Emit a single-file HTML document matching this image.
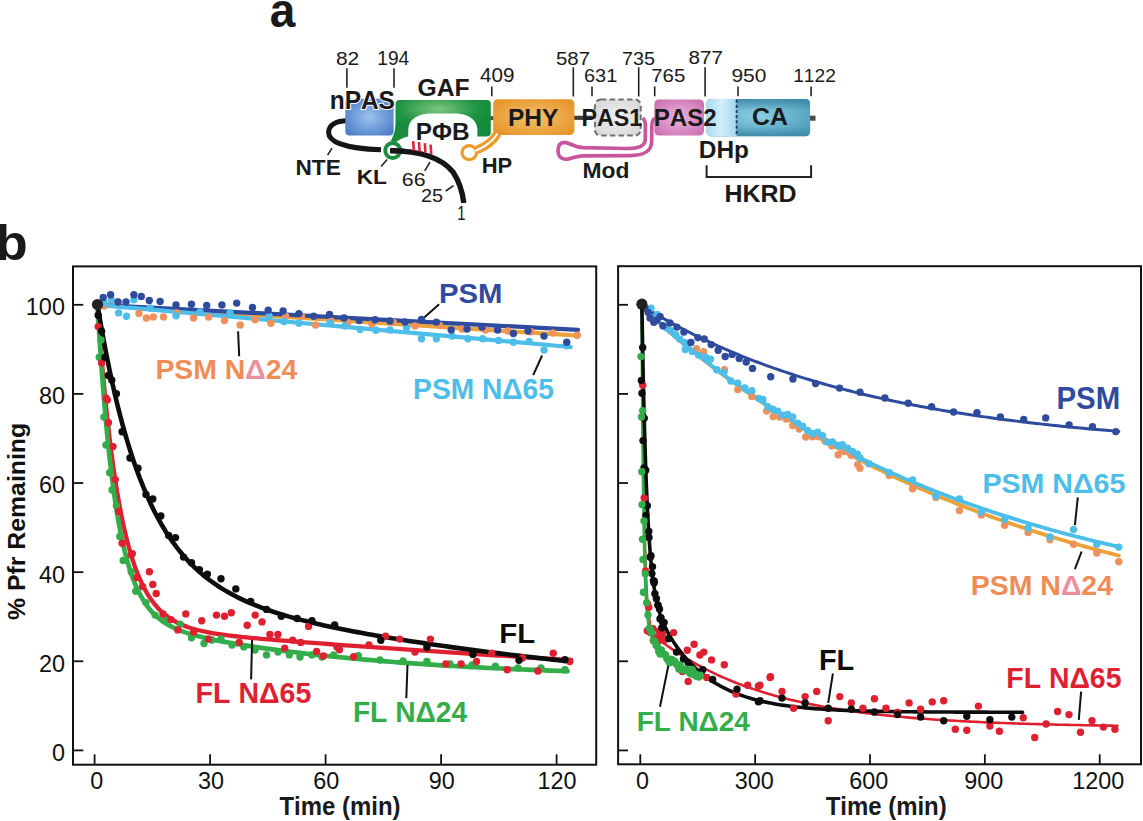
<!DOCTYPE html>
<html><head><meta charset="utf-8"><style>
html,body{margin:0;padding:0;background:#fff;}
svg{display:block;font-family:"Liberation Sans", sans-serif;}
text{font-kerning:none;}
</style></head><body>
<svg width="1143" height="821" viewBox="0 0 1143 821">
<rect width="1143" height="821" fill="#fff"/>
<text transform="translate(269.65,27.00) scale(0.9401,1)" font-size="48.88" font-weight="bold" fill="#1a1a1a" >a</text>
<text transform="translate(-4.48,259.80) scale(1.0684,1)" font-size="49.41" font-weight="bold" fill="#1a1a1a" >b</text>
<defs>
<radialGradient id="gBlue" cx="0.5" cy="0.5" r="0.6"><stop offset="0" stop-color="#9cc3ee"/><stop offset="1" stop-color="#4f7fc8"/></radialGradient>
<radialGradient id="gGreen" cx="0.45" cy="0.25" r="0.6"><stop offset="0" stop-color="#7cc67e"/><stop offset="0.7" stop-color="#1f9443"/><stop offset="1" stop-color="#168a3c"/></radialGradient>
<radialGradient id="gOrange" cx="0.5" cy="0.5" r="0.6"><stop offset="0" stop-color="#f2c070"/><stop offset="1" stop-color="#e8962a"/></radialGradient>
<radialGradient id="gGray" cx="0.5" cy="0.5" r="0.6"><stop offset="0" stop-color="#f2f2f2"/><stop offset="1" stop-color="#d8d8d8"/></radialGradient>
<radialGradient id="gMag" cx="0.5" cy="0.5" r="0.6"><stop offset="0" stop-color="#ecb6de"/><stop offset="1" stop-color="#cc74b2"/></radialGradient>
<linearGradient id="gLB" x1="0" y1="0" x2="1" y2="0"><stop offset="0" stop-color="#a9d9f1"/><stop offset="0.5" stop-color="#d4eefa"/><stop offset="1" stop-color="#a3d5ee"/></linearGradient>
<radialGradient id="gCA" cx="0.5" cy="0.45" r="0.6"><stop offset="0" stop-color="#8ccfe2"/><stop offset="1" stop-color="#4c9dbb"/></radialGradient>
<linearGradient id="gCAv" x1="0" y1="0" x2="0" y2="1"><stop offset="0" stop-color="#2f7896" stop-opacity="0.55"/><stop offset="0.3" stop-color="#2f7896" stop-opacity="0"/><stop offset="0.75" stop-color="#2f7896" stop-opacity="0"/><stop offset="1" stop-color="#2f7896" stop-opacity="0.5"/></linearGradient>
</defs>
<text transform="translate(335.89,65.20) scale(1.0897,1)" font-size="19.19" font-weight="normal" fill="#1a1a1a" >82</text>
<text transform="translate(377.34,65.20) scale(0.9822,1)" font-size="19.48" font-weight="normal" fill="#1a1a1a" >194</text>
<text transform="translate(555.98,64.60) scale(1.0882,1)" font-size="18.75" font-weight="normal" fill="#1a1a1a" >587</text>
<text transform="translate(622.08,64.60) scale(1.0564,1)" font-size="18.75" font-weight="normal" fill="#1a1a1a" >735</text>
<text transform="translate(688.60,64.00) scale(1.1085,1)" font-size="18.62" font-weight="normal" fill="#1a1a1a" >877</text>
<text transform="translate(479.92,82.00) scale(1.0555,1)" font-size="19.62" font-weight="normal" fill="#1a1a1a" >409</text>
<text transform="translate(583.99,82.00) scale(1.0883,1)" font-size="18.33" font-weight="normal" fill="#1a1a1a" >631</text>
<text transform="translate(651.25,82.00) scale(1.0987,1)" font-size="18.60" font-weight="normal" fill="#1a1a1a" >765</text>
<text transform="translate(731.42,82.20) scale(1.1097,1)" font-size="18.90" font-weight="normal" fill="#1a1a1a" >950</text>
<text transform="translate(793.13,82.20)" font-size="19.19" font-weight="normal" fill="#1a1a1a" >1122</text>
<line x1="346.90" y1="68.30" x2="346.90" y2="87.80" stroke="#222" stroke-width="1.60" />
<line x1="394.00" y1="68.30" x2="394.00" y2="87.80" stroke="#222" stroke-width="1.60" />
<line x1="573.30" y1="67.30" x2="573.30" y2="96.50" stroke="#222" stroke-width="1.60" />
<line x1="638.70" y1="67.30" x2="638.70" y2="96.50" stroke="#222" stroke-width="1.60" />
<line x1="705.10" y1="67.30" x2="705.10" y2="96.50" stroke="#222" stroke-width="1.60" />
<line x1="491.80" y1="86.40" x2="491.80" y2="96.30" stroke="#222" stroke-width="1.60" />
<line x1="592.00" y1="86.40" x2="592.00" y2="96.30" stroke="#222" stroke-width="1.60" />
<line x1="654.70" y1="86.40" x2="654.70" y2="96.30" stroke="#222" stroke-width="1.60" />
<line x1="738.00" y1="86.40" x2="738.00" y2="96.30" stroke="#222" stroke-width="1.60" />
<line x1="811.10" y1="86.40" x2="811.10" y2="96.30" stroke="#222" stroke-width="1.60" />
<line x1="574.00" y1="117.80" x2="592.00" y2="117.80" stroke="#404040" stroke-width="4.20" />
<line x1="490.00" y1="118.20" x2="494.00" y2="118.20" stroke="#4a4a4a" stroke-width="4.00" />
<line x1="808.00" y1="118.20" x2="815.50" y2="118.20" stroke="#4a4a4a" stroke-width="5.00" />
<path d="M347,120.8 C336,120.8 328.6,125 328.6,132.4 C328.6,142 345,148.5 381,149.8" fill="none" stroke="#151515" stroke-width="5"/>
<path d="M390.2,150.6 C420,150.8 441,157 453,172 C459,181 462.5,192 463.8,203" fill="none" stroke="#151515" stroke-width="5.4"/>
<rect x="345.3" y="98.7" width="48.3" height="36.8" rx="4" fill="url(#gBlue)"/>
<path d="M399.5,100.1 H486.8 Q490.8,100.1 490.8,104.1 V132.4 Q490.8,136.4 486.8,136.4 H477.4 V130 C477.4,122 471.6,115 457.6,113.6 H428 C414,115 408.2,122 408.2,130 V136.4 H395.5 V104.1 Q395.5,100.1 399.5,100.1 Z" fill="url(#gGreen)"/>
<path d="M395.5,126 L408.2,126 L408,136.3 C403,138 398.5,140.2 396.2,142 L390.6,141 C392.6,137.5 394.8,133 395.5,126 Z" fill="#1b8c3f"/>
<circle cx="392.7" cy="150.5" r="7.45" fill="none" stroke="#1b8c3f" stroke-width="3.9"/>
<path d="M390.2,150.6 C395,150.5 400,150.8 404,151.3" fill="none" stroke="#151515" stroke-width="5.4"/>
<line x1="413.80" y1="150.70" x2="413.20" y2="141.20" stroke="#dc2a3a" stroke-width="2.60" />
<line x1="419.60" y1="151.50" x2="419.00" y2="142.00" stroke="#dc2a3a" stroke-width="2.60" />
<line x1="425.40" y1="152.70" x2="424.80" y2="143.20" stroke="#dc2a3a" stroke-width="2.60" />
<line x1="431.20" y1="154.20" x2="430.60" y2="144.70" stroke="#dc2a3a" stroke-width="2.60" />
<rect x="493.2" y="99.2" width="81.2" height="35.8" rx="4.5" fill="url(#gOrange)"/>
<path d="M497.5,133.5 C494,140 488,145.5 477,150" fill="none" stroke="#ec9a2c" stroke-width="8.6"/>
<path d="M497.5,133.5 C494,140 488,145.5 474,151.5" fill="none" stroke="#fff" stroke-width="1.8"/>
<ellipse cx="469.3" cy="152.6" rx="7.3" ry="7.0" fill="#fff" stroke="#ec9a2c" stroke-width="3.1"/>
<path d="M488,144 C484,147 480,149 475,150.8" fill="none" stroke="#fff" stroke-width="1.8"/>
<rect x="594.9" y="99.4" width="45.8" height="36.2" rx="6" fill="url(#gGray)" stroke="#707070" stroke-width="2" stroke-dasharray="5.5,3.2"/>
<rect x="654.3" y="99.5" width="49.7" height="36" rx="4.5" fill="url(#gMag)"/>
<path d="M642.5,118.3 C644.8,119.5 645.4,122 645.4,126 L645.3,139 C645.1,146 640,148.4 626,148.5 L583,147.6 C574,147.2 569.5,142.6 564.3,142.4 C559.2,142.4 558,147 558,151.1 C558,156 561,159.4 566,159.3 C571,159.2 575.5,155.9 583,155.8 L630,155.6 C645,155.4 651.6,151 651.7,141 L651.8,126 C651.9,121 653,119 655,118.5" fill="none" stroke="#c9559f" stroke-width="3.7"/>
<rect x="706.6" y="99" width="103.5" height="37.3" rx="4.5" fill="url(#gCA)"/>
<rect x="706.6" y="99" width="103.5" height="37.3" rx="4.5" fill="url(#gCAv)"/>
<path d="M711.1,99 H736.6 V136.3 H711.1 Q706.6,136.3 706.6,131.8 V103.5 Q706.6,99 711.1,99 Z" fill="url(#gLB)"/>
<line x1="736.60" y1="99.50" x2="736.60" y2="136.00" stroke="#1c3c60" stroke-width="1.80" stroke-dasharray="3.2,2"/>
<path d="M706.6,165.3 V177 H811.1 V165.3" fill="none" stroke="#222" stroke-width="2"/>
<text transform="translate(329.69,109.00) scale(0.9567,1)" font-size="25.58" font-weight="bold" fill="#1a1a1a" stroke="#fff" stroke-width="2" paint-order="stroke">nPAS</text>
<text transform="translate(417.59,96.00) scale(1.0295,1)" font-size="23.98" font-weight="bold" fill="#1a1a1a" >GAF</text>
<text transform="translate(415.77,139.90) scale(1.0219,1)" font-size="23.84" font-weight="bold" fill="#1a1a1a" >PΦB</text>
<text transform="translate(507.96,125.70) scale(1.0228,1)" font-size="23.98" font-weight="bold" fill="#1a1a1a" >PHY</text>
<text transform="translate(581.55,125.80) scale(0.9630,1)" font-size="24.13" font-weight="bold" fill="#1a1a1a" >PAS1</text>
<text transform="translate(653.68,125.80)" font-size="24.13" font-weight="bold" fill="#1a1a1a" >PAS2</text>
<text transform="translate(752.08,124.90) scale(1.0294,1)" font-size="24.13" font-weight="bold" fill="#1a1a1a" >CA</text>
<text transform="translate(698.76,158.20) scale(1.0070,1)" font-size="24.27" font-weight="bold" fill="#1a1a1a" >DHp</text>
<text transform="translate(724.53,201.50) scale(1.0410,1)" font-size="23.98" font-weight="bold" fill="#1a1a1a" >HKRD</text>
<text transform="translate(582.57,178.40) scale(1.0764,1)" font-size="21.22" font-weight="bold" fill="#1a1a1a" >Mod</text>
<text transform="translate(481.63,173.20) scale(0.9689,1)" font-size="22.67" font-weight="bold" fill="#1a1a1a" >HP</text>
<text transform="translate(295.48,175.20) scale(1.0529,1)" font-size="21.51" font-weight="bold" fill="#1a1a1a" >NTE</text>
<text transform="translate(356.68,184.00) scale(1.1138,1)" font-size="20.35" font-weight="bold" fill="#1a1a1a" >KL</text>
<text transform="translate(401.81,186.00) scale(1.1967,1)" font-size="17.90" font-weight="normal" fill="#1a1a1a" >66</text>
<text transform="translate(421.00,202.40) scale(1.0476,1)" font-size="18.90" font-weight="normal" fill="#1a1a1a" >25</text>
<text transform="translate(457.27,219.70) scale(0.7454,1)" font-size="19.91" font-weight="normal" fill="#1a1a1a" >1</text>
<line x1="327.60" y1="155.10" x2="332.00" y2="148.10" stroke="#222" stroke-width="1.60" />
<line x1="381.00" y1="166.50" x2="387.10" y2="159.50" stroke="#222" stroke-width="1.60" />
<line x1="424.70" y1="170.90" x2="430.00" y2="162.10" stroke="#222" stroke-width="1.60" />
<line x1="445.70" y1="191.00" x2="453.60" y2="185.70" stroke="#222" stroke-width="1.60" />
<rect x="73" y="266.4" width="523.2" height="498.3" fill="none" stroke="#111" stroke-width="2"/>
<rect x="618.1" y="266.2" width="522.9" height="498.1" fill="none" stroke="#111" stroke-width="2"/>
<line x1="73.00" y1="750.40" x2="83.30" y2="750.40" stroke="#111" stroke-width="1.80" />
<line x1="618.10" y1="750.40" x2="628.00" y2="750.40" stroke="#111" stroke-width="1.80" />
<text x="51.90" y="760.80" font-size="23.40" fill="#111">0</text>
<line x1="73.00" y1="661.28" x2="83.30" y2="661.28" stroke="#111" stroke-width="1.80" />
<line x1="618.10" y1="661.28" x2="628.00" y2="661.28" stroke="#111" stroke-width="1.80" />
<text x="38.89" y="671.68" font-size="23.40" fill="#111">20</text>
<line x1="73.00" y1="572.16" x2="83.30" y2="572.16" stroke="#111" stroke-width="1.80" />
<line x1="618.10" y1="572.16" x2="628.00" y2="572.16" stroke="#111" stroke-width="1.80" />
<text x="38.89" y="582.56" font-size="23.40" fill="#111">40</text>
<line x1="73.00" y1="483.04" x2="83.30" y2="483.04" stroke="#111" stroke-width="1.80" />
<line x1="618.10" y1="483.04" x2="628.00" y2="483.04" stroke="#111" stroke-width="1.80" />
<text x="38.89" y="493.44" font-size="23.40" fill="#111">60</text>
<line x1="73.00" y1="393.92" x2="83.30" y2="393.92" stroke="#111" stroke-width="1.80" />
<line x1="618.10" y1="393.92" x2="628.00" y2="393.92" stroke="#111" stroke-width="1.80" />
<text x="38.89" y="404.32" font-size="23.40" fill="#111">80</text>
<line x1="73.00" y1="304.80" x2="83.30" y2="304.80" stroke="#111" stroke-width="1.80" />
<line x1="618.10" y1="304.80" x2="628.00" y2="304.80" stroke="#111" stroke-width="1.80" />
<text x="25.87" y="315.20" font-size="23.40" fill="#111">100</text>
<line x1="94.60" y1="764.70" x2="94.60" y2="754.30" stroke="#111" stroke-width="1.80" />
<text x="90.29" y="789.20" font-size="23.40" fill="#111">0</text>
<line x1="210.10" y1="764.70" x2="210.10" y2="754.30" stroke="#111" stroke-width="1.80" />
<text x="197.90" y="789.20" font-size="23.40" fill="#111">30</text>
<line x1="325.60" y1="764.70" x2="325.60" y2="754.30" stroke="#111" stroke-width="1.80" />
<text x="313.25" y="789.20" font-size="23.40" fill="#111">60</text>
<line x1="441.10" y1="764.70" x2="441.10" y2="754.30" stroke="#111" stroke-width="1.80" />
<text x="428.79" y="789.20" font-size="23.40" fill="#111">90</text>
<line x1="556.60" y1="764.70" x2="556.60" y2="754.30" stroke="#111" stroke-width="1.80" />
<text x="537.44" y="789.20" font-size="23.40" fill="#111">120</text>
<line x1="640.30" y1="764.30" x2="640.30" y2="754.30" stroke="#111" stroke-width="1.80" />
<text x="635.99" y="789.20" font-size="23.40" fill="#111">0</text>
<line x1="755.15" y1="764.30" x2="755.15" y2="754.30" stroke="#111" stroke-width="1.80" />
<text x="734.64" y="789.20" font-size="23.40" fill="#111">300</text>
<line x1="870.00" y1="764.30" x2="870.00" y2="754.30" stroke="#111" stroke-width="1.80" />
<text x="849.34" y="789.20" font-size="23.40" fill="#111">600</text>
<line x1="984.85" y1="764.30" x2="984.85" y2="754.30" stroke="#111" stroke-width="1.80" />
<text x="964.23" y="789.20" font-size="23.40" fill="#111">900</text>
<line x1="1099.70" y1="764.30" x2="1099.70" y2="754.30" stroke="#111" stroke-width="1.80" />
<text x="1072.23" y="789.20" font-size="23.40" fill="#111">1200</text>
<text transform="translate(279.43,815.10) scale(0.9531,1)" font-size="25.15" font-weight="bold" fill="#1a1a1a" >Time (min)</text>
<text transform="translate(825.63,815.10) scale(0.9531,1)" font-size="25.15" font-weight="bold" fill="#1a1a1a" >Time (min)</text>
<text transform="translate(24.9,619.92) rotate(-90)" font-size="24.80" font-weight="bold" fill="#111">% Pfr Remaining</text>
<polyline points="97.50,304.80 337.74,320.26 577.98,335.72" fill="none" stroke="#e9a33a" stroke-width="4.20" stroke-linejoin="round" stroke-linecap="round" />
<polyline points="97.50,304.80 337.74,317.31 577.98,329.82" fill="none" stroke="#2f4b9e" stroke-width="4.20" stroke-linejoin="round" stroke-linecap="round" />
<polyline points="97.50,304.80 334.08,325.88 570.66,346.97" fill="none" stroke="#4dbde9" stroke-width="4.20" stroke-linejoin="round" stroke-linecap="round" />
<g fill="#f0905c"><circle cx="208.7" cy="317.1" r="3.70"/><circle cx="224.5" cy="320.6" r="3.70"/><circle cx="240.2" cy="325.0" r="3.70"/><circle cx="255.1" cy="319.7" r="3.70"/><circle cx="270.9" cy="323.2" r="3.70"/><circle cx="285.7" cy="316.2" r="3.70"/><circle cx="301.5" cy="316.2" r="3.70"/><circle cx="315.5" cy="325.0" r="3.70"/><circle cx="347.9" cy="322.4" r="3.70"/><circle cx="393.4" cy="322.4" r="3.70"/><circle cx="146.4" cy="318.0" r="3.70"/><circle cx="153.3" cy="316.9" r="3.70"/><circle cx="163.5" cy="316.9" r="3.70"/><circle cx="193.6" cy="318.0" r="3.70"/><circle cx="139.0" cy="313.4" r="3.70"/><circle cx="118.0" cy="302.0" r="3.70"/><circle cx="104.0" cy="306.0" r="3.70"/><circle cx="177.0" cy="313.0" r="3.70"/><circle cx="439.9" cy="325.6" r="3.70"/><circle cx="485.4" cy="330.0" r="3.70"/><circle cx="530.9" cy="331.7" r="3.70"/><circle cx="577.2" cy="335.2" r="3.70"/><circle cx="331.0" cy="321.0" r="3.70"/><circle cx="372.0" cy="324.0" r="3.70"/><circle cx="415.0" cy="326.0" r="3.70"/><circle cx="462.0" cy="329.0" r="3.70"/><circle cx="508.0" cy="331.0" r="3.70"/><circle cx="553.0" cy="333.0" r="3.70"/></g>
<g fill="#4dbde9"><circle cx="111.2" cy="299.8" r="3.70"/><circle cx="118.6" cy="312.9" r="3.70"/><circle cx="126.5" cy="316.3" r="3.70"/><circle cx="133.9" cy="299.8" r="3.70"/><circle cx="176.0" cy="315.7" r="3.70"/><circle cx="269.1" cy="316.2" r="3.70"/><circle cx="284.0" cy="321.5" r="3.70"/><circle cx="298.9" cy="323.2" r="3.70"/><circle cx="360.1" cy="329.4" r="3.70"/><circle cx="375.9" cy="330.2" r="3.70"/><circle cx="406.6" cy="327.4" r="3.70"/><circle cx="421.5" cy="338.7" r="3.70"/><circle cx="436.4" cy="338.7" r="3.70"/><circle cx="452.1" cy="336.1" r="3.70"/><circle cx="467.9" cy="338.7" r="3.70"/><circle cx="482.7" cy="338.7" r="3.70"/><circle cx="498.5" cy="340.5" r="3.70"/><circle cx="513.4" cy="342.2" r="3.70"/><circle cx="529.1" cy="341.4" r="3.70"/><circle cx="544.0" cy="350.1" r="3.70"/><circle cx="566.7" cy="345.7" r="3.70"/><circle cx="150.0" cy="308.0" r="3.70"/><circle cx="200.0" cy="312.0" r="3.70"/><circle cx="230.0" cy="313.0" r="3.70"/><circle cx="330.0" cy="323.0" r="3.70"/><circle cx="345.0" cy="326.0" r="3.70"/><circle cx="390.0" cy="330.0" r="3.70"/><circle cx="104.0" cy="303.0" r="3.70"/></g>
<g fill="#2f4b9e"><circle cx="103.2" cy="297.5" r="3.70"/><circle cx="110.6" cy="294.7" r="3.70"/><circle cx="133.9" cy="294.7" r="3.70"/><circle cx="141.3" cy="296.4" r="3.70"/><circle cx="149.3" cy="300.4" r="3.70"/><circle cx="160.1" cy="301.5" r="3.70"/><circle cx="176.0" cy="304.9" r="3.70"/><circle cx="191.4" cy="304.3" r="3.70"/><circle cx="206.7" cy="305.5" r="3.70"/><circle cx="118.0" cy="302.0" r="3.70"/><circle cx="126.0" cy="302.0" r="3.70"/><circle cx="221.9" cy="304.9" r="3.70"/><circle cx="236.7" cy="303.1" r="3.70"/><circle cx="252.5" cy="307.5" r="3.70"/><circle cx="268.2" cy="310.1" r="3.70"/><circle cx="283.1" cy="311.0" r="3.70"/><circle cx="298.9" cy="313.6" r="3.70"/><circle cx="313.7" cy="316.2" r="3.70"/><circle cx="329.5" cy="314.5" r="3.70"/><circle cx="359.2" cy="320.6" r="3.70"/><circle cx="375.0" cy="319.7" r="3.70"/><circle cx="421.5" cy="319.5" r="3.70"/><circle cx="436.4" cy="322.1" r="3.70"/><circle cx="451.2" cy="330.0" r="3.70"/><circle cx="467.0" cy="329.1" r="3.70"/><circle cx="497.6" cy="330.0" r="3.70"/><circle cx="513.4" cy="333.5" r="3.70"/><circle cx="544.0" cy="336.1" r="3.70"/><circle cx="566.7" cy="342.2" r="3.70"/><circle cx="344.0" cy="318.0" r="3.70"/><circle cx="390.0" cy="321.0" r="3.70"/><circle cx="405.0" cy="322.0" r="3.70"/><circle cx="482.0" cy="327.0" r="3.70"/><circle cx="528.0" cy="331.0" r="3.70"/></g>
<polyline points="97.50,304.81 97.99,311.63 98.47,318.31 98.96,324.86 99.45,331.26 99.94,337.53 100.42,343.67 100.91,349.68 101.40,355.56 101.89,361.32 102.37,366.96 102.86,372.48 103.35,377.88 103.84,383.17 104.32,388.35 104.81,393.43 105.30,398.39 105.78,403.25 106.27,408.01 106.76,412.67 107.25,417.23 107.73,421.69 108.22,426.07 108.71,430.35 109.20,434.54 109.68,438.64 110.17,442.66 110.66,446.59 111.15,450.44 111.63,454.21 112.12,457.90 112.61,461.52 113.09,465.06 113.58,468.52 114.07,471.91 114.56,475.23 115.04,478.49 115.53,481.67 116.02,484.79 116.51,487.84 116.99,490.83 117.48,493.76 117.97,496.62 118.46,499.43 118.94,502.17 119.43,504.86 119.92,507.50 120.41,510.08 120.89,512.60 121.38,515.07 121.87,517.50 122.35,519.87 122.84,522.19 123.33,524.46 123.82,526.69 124.30,528.87 124.79,531.00 125.28,533.09 125.77,535.14 126.25,537.15 126.74,539.11 127.23,541.03 127.72,542.92 128.20,544.76 128.69,546.57 129.18,548.33 129.66,550.07 130.15,551.76 130.64,553.42 131.13,555.05 131.61,556.64 132.10,558.20 132.59,559.73 133.08,561.23 133.56,562.70 134.05,564.13 134.54,565.54 135.03,566.92 135.51,568.26 136.00,569.59 136.00,569.59 139.69,578.75 143.38,586.59 147.06,593.31 150.75,599.06 154.44,604.01 158.13,608.26 161.82,611.92 165.51,615.08 169.19,617.81 172.88,620.18 176.57,622.25 180.26,624.04 183.95,625.62 187.64,627.00 191.32,628.22 195.01,629.31 198.70,630.27 202.39,631.14 206.08,631.92 209.76,632.62 213.45,633.27 217.14,633.86 220.83,634.41 224.52,634.92 228.21,635.39 231.89,635.84 235.58,636.26 239.27,636.66 242.96,637.05 246.65,637.42 250.34,637.78 254.02,638.12 257.71,638.46 261.40,638.79 265.09,639.11 268.78,639.42 272.46,639.73 276.15,640.03 279.84,640.33 283.53,640.63 287.22,640.92 290.91,641.21 294.59,641.50 298.28,641.78 301.97,642.06 305.66,642.34 309.35,642.62 313.04,642.90 316.72,643.17 320.41,643.45 324.10,643.72 327.79,643.99 331.48,644.26 335.16,644.53 338.85,644.80 342.54,645.07 346.23,645.33 349.92,645.60 353.61,645.86 357.29,646.12 360.98,646.38 364.67,646.65 368.36,646.91 372.05,647.16 375.74,647.42 379.42,647.68 383.11,647.94 386.80,648.19 390.49,648.45 394.18,648.70 397.86,648.95 401.55,649.21 405.24,649.46 408.93,649.71 412.62,649.96 416.31,650.21 419.99,650.46 423.68,650.70 427.37,650.95 431.06,651.20 434.75,651.44 438.44,651.69 442.12,651.93 445.81,652.17 449.50,652.41 453.19,652.65 456.88,652.89 460.56,653.13 464.25,653.37 467.94,653.61 471.63,653.85 475.32,654.08 479.01,654.32 482.69,654.56 486.38,654.79 490.07,655.02 493.76,655.26 497.45,655.49 501.14,655.72 504.82,655.95 508.51,656.18 512.20,656.41 515.89,656.64 519.58,656.86 523.26,657.09 526.95,657.32 530.64,657.54 534.33,657.77 538.02,657.99 541.71,658.21 545.39,658.44 549.08,658.66 552.77,658.88 556.46,659.10 560.15,659.32 563.84,659.54 567.52,659.75 571.21,659.97" fill="none" stroke="#df2030" stroke-width="4.30" stroke-linejoin="round" stroke-linecap="round" />
<polyline points="97.50,304.81 97.99,313.07 98.47,321.11 98.96,328.94 99.45,336.57 99.94,344.00 100.42,351.24 100.91,358.29 101.40,365.17 101.89,371.86 102.37,378.38 102.86,384.74 103.35,390.93 103.84,396.96 104.32,402.83 104.81,408.56 105.30,414.13 105.78,419.57 106.27,424.86 106.76,430.02 107.25,435.05 107.73,439.94 108.22,444.72 108.71,449.37 109.20,453.90 109.68,458.31 110.17,462.62 110.66,466.81 111.15,470.89 111.63,474.88 112.12,478.76 112.61,482.54 113.09,486.22 113.58,489.81 114.07,493.31 114.56,496.73 115.04,500.05 115.53,503.29 116.02,506.45 116.51,509.53 116.99,512.53 117.48,515.46 117.97,518.31 118.46,521.09 118.94,523.80 119.43,526.44 119.92,529.02 120.41,531.53 120.89,533.98 121.38,536.37 121.87,538.70 122.35,540.97 122.84,543.18 123.33,545.34 123.82,547.44 124.30,549.50 124.79,551.50 125.28,553.45 125.77,555.35 126.25,557.21 126.74,559.02 127.23,560.79 127.72,562.51 128.20,564.19 128.69,565.83 129.18,567.43 129.66,568.99 130.15,570.52 130.64,572.00 131.13,573.45 131.61,574.87 132.10,576.25 132.59,577.59 133.08,578.91 133.56,580.19 134.05,581.45 134.54,582.67 135.03,583.86 135.51,585.03 136.00,586.16 136.00,586.16 139.69,593.95 143.38,600.46 147.06,605.94 150.75,610.57 154.44,614.49 158.13,617.84 161.82,620.73 165.51,623.22 169.19,625.40 172.88,627.31 176.57,629.01 180.26,630.52 183.95,631.89 187.64,633.13 191.32,634.27 195.01,635.32 198.70,636.30 202.39,637.22 206.08,638.08 209.76,638.90 213.45,639.69 217.14,640.44 220.83,641.16 224.52,641.85 228.21,642.52 231.89,643.17 235.58,643.81 239.27,644.42 242.96,645.02 246.65,645.61 250.34,646.18 254.02,646.74 257.71,647.29 261.40,647.83 265.09,648.36 268.78,648.88 272.46,649.39 276.15,649.89 279.84,650.38 283.53,650.86 287.22,651.33 290.91,651.79 294.59,652.25 298.28,652.70 301.97,653.14 305.66,653.57 309.35,653.99 313.04,654.41 316.72,654.82 320.41,655.23 324.10,655.62 327.79,656.01 331.48,656.40 335.16,656.77 338.85,657.15 342.54,657.51 346.23,657.87 349.92,658.22 353.61,658.57 357.29,658.91 360.98,659.24 364.67,659.57 368.36,659.89 372.05,660.21 375.74,660.52 379.42,660.83 383.11,661.13 386.80,661.43 390.49,661.72 394.18,662.01 397.86,662.29 401.55,662.57 405.24,662.84 408.93,663.11 412.62,663.37 416.31,663.63 419.99,663.89 423.68,664.14 427.37,664.38 431.06,664.62 434.75,664.86 438.44,665.10 442.12,665.33 445.81,665.55 449.50,665.78 453.19,665.99 456.88,666.21 460.56,666.42 464.25,666.63 467.94,666.83 471.63,667.03 475.32,667.23 479.01,667.42 482.69,667.61 486.38,667.80 490.07,667.99 493.76,668.17 497.45,668.35 501.14,668.52 504.82,668.69 508.51,668.86 512.20,669.03 515.89,669.19 519.58,669.35 523.26,669.51 526.95,669.67 530.64,669.82 534.33,669.97 538.02,670.12 541.71,670.26 545.39,670.41 549.08,670.55 552.77,670.68 556.46,670.82 560.15,670.95 563.84,671.08 567.52,671.21" fill="none" stroke="#33ad4a" stroke-width="4.70" stroke-linejoin="round" stroke-linecap="round" />
<polyline points="97.50,304.81 97.99,307.77 98.47,310.70 98.96,313.60 99.45,316.47 99.94,319.32 100.42,322.13 100.91,324.92 101.40,327.68 101.89,330.42 102.37,333.12 102.86,335.80 103.35,338.45 103.84,341.08 104.32,343.68 104.81,346.25 105.30,348.80 105.78,351.33 106.27,353.83 106.76,356.30 107.25,358.75 107.73,361.18 108.22,363.58 108.71,365.95 109.20,368.31 109.68,370.64 110.17,372.95 110.66,375.23 111.15,377.50 111.63,379.74 112.12,381.96 112.61,384.15 113.09,386.33 113.58,388.48 114.07,390.62 114.56,392.73 115.04,394.82 115.53,396.89 116.02,398.94 116.51,400.97 116.99,402.98 117.48,404.97 117.97,406.94 118.46,408.89 118.94,410.83 119.43,412.74 119.92,414.64 120.41,416.51 120.89,418.37 121.38,420.21 121.87,422.04 122.35,423.84 122.84,425.63 123.33,427.40 123.82,429.15 124.30,430.89 124.79,432.61 125.28,434.31 125.77,436.00 126.25,437.67 126.74,439.32 127.23,440.96 127.72,442.58 128.20,444.19 128.69,445.78 129.18,447.35 129.66,448.91 130.15,450.46 130.64,451.99 131.13,453.50 131.61,455.01 132.10,456.49 132.59,457.97 133.08,459.42 133.56,460.87 134.05,462.30 134.54,463.72 135.03,465.12 135.51,466.51 136.00,467.89 136.00,467.89 139.69,477.89 143.38,487.20 147.06,495.87 150.75,503.94 154.44,511.46 158.13,518.47 161.82,525.02 165.51,531.13 169.19,536.84 172.88,542.17 176.57,547.16 180.26,551.83 183.95,556.21 187.64,560.31 191.32,564.16 195.01,567.78 198.70,571.18 202.39,574.38 206.08,577.40 209.76,580.24 213.45,582.92 217.14,585.46 220.83,587.86 224.52,590.13 228.21,592.28 231.89,594.33 235.58,596.27 239.27,598.12 242.96,599.89 246.65,601.57 250.34,603.17 254.02,604.71 257.71,606.18 261.40,607.59 265.09,608.94 268.78,610.25 272.46,611.50 276.15,612.71 279.84,613.87 283.53,615.00 287.22,616.09 290.91,617.14 294.59,618.16 298.28,619.15 301.97,620.12 305.66,621.05 309.35,621.97 313.04,622.86 316.72,623.72 320.41,624.57 324.10,625.40 327.79,626.21 331.48,627.00 335.16,627.77 338.85,628.53 342.54,629.28 346.23,630.01 349.92,630.73 353.61,631.44 357.29,632.13 360.98,632.82 364.67,633.49 368.36,634.16 372.05,634.81 375.74,635.45 379.42,636.09 383.11,636.72 386.80,637.34 390.49,637.95 394.18,638.55 397.86,639.15 401.55,639.74 405.24,640.32 408.93,640.90 412.62,641.47 416.31,642.03 419.99,642.59 423.68,643.14 427.37,643.69 431.06,644.23 434.75,644.76 438.44,645.29 442.12,645.82 445.81,646.34 449.50,646.85 453.19,647.36 456.88,647.87 460.56,648.37 464.25,648.87 467.94,649.36 471.63,649.85 475.32,650.33 479.01,650.81 482.69,651.29 486.38,651.76 490.07,652.23 493.76,652.69 497.45,653.15 501.14,653.61 504.82,654.06 508.51,654.51 512.20,654.95 515.89,655.39 519.58,655.83 523.26,656.27 526.95,656.70 530.64,657.12 534.33,657.55 538.02,657.97 541.71,658.39 545.39,658.80 549.08,659.21 552.77,659.62 556.46,660.02 560.15,660.42 563.84,660.82" fill="none" stroke="#0d0d0d" stroke-width="4.60" stroke-linejoin="round" stroke-linecap="round" />
<g fill="#33ad4a"><circle cx="99.3" cy="357.3" r="3.70"/><circle cx="101.0" cy="340.0" r="3.70"/><circle cx="103.9" cy="417.1" r="3.70"/><circle cx="106.0" cy="445.0" r="3.70"/><circle cx="109.6" cy="472.8" r="3.70"/><circle cx="112.0" cy="490.0" r="3.70"/><circle cx="116.4" cy="505.8" r="3.70"/><circle cx="119.8" cy="536.5" r="3.70"/><circle cx="123.2" cy="560.5" r="3.70"/><circle cx="131.2" cy="571.8" r="3.70"/><circle cx="135.7" cy="591.2" r="3.70"/><circle cx="146.0" cy="602.6" r="3.70"/><circle cx="155.1" cy="615.1" r="3.70"/><circle cx="180.1" cy="624.2" r="3.70"/><circle cx="191.5" cy="637.8" r="3.70"/><circle cx="204.0" cy="643.5" r="3.70"/><circle cx="221.0" cy="639.0" r="3.70"/><circle cx="243.8" cy="646.9" r="3.70"/><circle cx="266.5" cy="654.9" r="3.70"/><circle cx="289.3" cy="654.9" r="3.70"/><circle cx="312.0" cy="654.9" r="3.70"/><circle cx="333.6" cy="654.9" r="3.70"/><circle cx="358.3" cy="655.6" r="3.70"/><circle cx="380.0" cy="660.0" r="3.70"/><circle cx="403.0" cy="661.0" r="3.70"/><circle cx="426.9" cy="661.5" r="3.70"/><circle cx="450.0" cy="664.0" r="3.70"/><circle cx="472.0" cy="665.0" r="3.70"/><circle cx="495.4" cy="666.2" r="3.70"/><circle cx="518.0" cy="668.0" r="3.70"/><circle cx="541.0" cy="668.0" r="3.70"/><circle cx="565.0" cy="669.8" r="3.70"/><circle cx="165.0" cy="620.0" r="3.70"/><circle cx="212.0" cy="640.0" r="3.70"/><circle cx="232.0" cy="645.0" r="3.70"/><circle cx="255.0" cy="650.0" r="3.70"/><circle cx="278.0" cy="652.0" r="3.70"/><circle cx="300.0" cy="657.0" r="3.70"/><circle cx="322.0" cy="657.0" r="3.70"/></g>
<g fill="#df2030"><circle cx="98.2" cy="326.6" r="3.70"/><circle cx="101.6" cy="363.0" r="3.70"/><circle cx="106.2" cy="398.3" r="3.70"/><circle cx="107.3" cy="400.0" r="3.70"/><circle cx="108.4" cy="422.7" r="3.70"/><circle cx="113.0" cy="446.6" r="3.70"/><circle cx="115.3" cy="479.6" r="3.70"/><circle cx="118.7" cy="511.5" r="3.70"/><circle cx="122.1" cy="543.3" r="3.70"/><circle cx="131.2" cy="554.7" r="3.70"/><circle cx="132.3" cy="553.6" r="3.70"/><circle cx="136.9" cy="577.5" r="3.70"/><circle cx="142.6" cy="586.6" r="3.70"/><circle cx="149.4" cy="571.8" r="3.70"/><circle cx="152.8" cy="584.4" r="3.70"/><circle cx="156.2" cy="593.5" r="3.70"/><circle cx="163.0" cy="613.9" r="3.70"/><circle cx="171.0" cy="619.6" r="3.70"/><circle cx="177.8" cy="629.9" r="3.70"/><circle cx="185.8" cy="613.9" r="3.70"/><circle cx="193.7" cy="632.1" r="3.70"/><circle cx="201.7" cy="620.8" r="3.70"/><circle cx="208.5" cy="639.0" r="3.70"/><circle cx="216.5" cy="615.1" r="3.70"/><circle cx="224.5" cy="616.2" r="3.70"/><circle cx="231.3" cy="612.8" r="3.70"/><circle cx="239.2" cy="642.4" r="3.70"/><circle cx="247.2" cy="625.3" r="3.70"/><circle cx="255.2" cy="615.1" r="3.70"/><circle cx="262.0" cy="621.9" r="3.70"/><circle cx="269.9" cy="634.4" r="3.70"/><circle cx="277.9" cy="634.4" r="3.70"/><circle cx="284.7" cy="648.1" r="3.70"/><circle cx="292.7" cy="640.1" r="3.70"/><circle cx="300.7" cy="642.4" r="3.70"/><circle cx="308.6" cy="626.4" r="3.70"/><circle cx="316.6" cy="651.5" r="3.70"/><circle cx="323.4" cy="656.0" r="3.70"/><circle cx="337.0" cy="646.9" r="3.70"/><circle cx="339.4" cy="649.7" r="3.70"/><circle cx="353.6" cy="656.8" r="3.70"/><circle cx="369.0" cy="645.0" r="3.70"/><circle cx="385.5" cy="636.2" r="3.70"/><circle cx="399.7" cy="639.1" r="3.70"/><circle cx="415.0" cy="652.1" r="3.70"/><circle cx="430.4" cy="639.1" r="3.70"/><circle cx="445.8" cy="663.9" r="3.70"/><circle cx="461.1" cy="663.9" r="3.70"/><circle cx="476.5" cy="661.5" r="3.70"/><circle cx="491.8" cy="653.2" r="3.70"/><circle cx="507.2" cy="669.8" r="3.70"/><circle cx="522.5" cy="658.0" r="3.70"/><circle cx="537.9" cy="671.0" r="3.70"/><circle cx="553.2" cy="653.2" r="3.70"/><circle cx="569.8" cy="661.5" r="3.70"/></g>
<g fill="#0d0d0d"><circle cx="98.2" cy="315.3" r="3.70"/><circle cx="101.6" cy="331.2" r="3.70"/><circle cx="105.0" cy="357.3" r="3.70"/><circle cx="108.4" cy="375.5" r="3.70"/><circle cx="111.8" cy="380.1" r="3.70"/><circle cx="116.4" cy="393.7" r="3.70"/><circle cx="122.1" cy="431.8" r="3.70"/><circle cx="130.0" cy="458.0" r="3.70"/><circle cx="138.0" cy="468.2" r="3.70"/><circle cx="146.0" cy="494.4" r="3.70"/><circle cx="152.8" cy="499.0" r="3.70"/><circle cx="160.8" cy="516.0" r="3.70"/><circle cx="168.7" cy="535.4" r="3.70"/><circle cx="175.5" cy="537.6" r="3.70"/><circle cx="183.5" cy="557.1" r="3.70"/><circle cx="191.5" cy="562.7" r="3.70"/><circle cx="199.4" cy="569.6" r="3.70"/><circle cx="207.4" cy="574.1" r="3.70"/><circle cx="221.0" cy="578.7" r="3.70"/><circle cx="235.8" cy="588.9" r="3.70"/><circle cx="250.6" cy="601.4" r="3.70"/><circle cx="266.5" cy="609.4" r="3.70"/><circle cx="281.3" cy="616.2" r="3.70"/><circle cx="297.2" cy="618.5" r="3.70"/><circle cx="312.0" cy="620.8" r="3.70"/><circle cx="334.7" cy="624.9" r="3.70"/><circle cx="380.8" cy="640.2" r="3.70"/><circle cx="426.9" cy="647.3" r="3.70"/><circle cx="472.9" cy="654.4" r="3.70"/><circle cx="519.0" cy="660.3" r="3.70"/><circle cx="565.0" cy="659.8" r="3.70"/></g>
<circle cx="97.5" cy="304.5" r="5.6" fill="#222"/>
<text transform="translate(439.04,302.60) scale(1.0289,1)" font-size="28.49" font-weight="bold" fill="#2f4b9e" >PSM</text>
<text transform="translate(155.40,379.00) scale(1.0072,1)" font-size="28.20" font-weight="bold" fill="#f08c56">PSM N<tspan fill="#ec8fa0">Δ</tspan>24</text>
<text transform="translate(413.11,398.80) scale(0.9647,1)" font-size="29.22" font-weight="bold" fill="#4dbde9">PSM N<tspan fill="#4dbde9">Δ</tspan>65</text>
<text transform="translate(499.34,643.30) scale(1.0305,1)" font-size="28.49" font-weight="bold" fill="#0d0d0d" >FL</text>
<text transform="translate(195.59,702.50) scale(0.9781,1)" font-size="29.22" font-weight="bold" fill="#df2030">FL N<tspan fill="#df2030">Δ</tspan>65</text>
<text transform="translate(352.91,722.20) scale(0.9794,1)" font-size="28.78" font-weight="bold" fill="#33ad4a">FL N<tspan fill="#33ad4a">Δ</tspan>24</text>
<line x1="424.50" y1="317.20" x2="439.10" y2="304.30" stroke="#111" stroke-width="2.00" />
<line x1="238.10" y1="331.20" x2="239.20" y2="356.20" stroke="#111" stroke-width="2.00" />
<line x1="533.20" y1="375.10" x2="542.10" y2="355.50" stroke="#111" stroke-width="2.00" />
<line x1="252.10" y1="640.00" x2="251.10" y2="679.40" stroke="#111" stroke-width="2.00" />
<line x1="407.50" y1="665.00" x2="406.30" y2="698.10" stroke="#111" stroke-width="2.00" />
<polyline points="643.00,305.00 642.60,307.83 645.79,310.77 648.99,313.70 652.19,316.60 655.38,319.47 658.58,322.32 661.77,325.14 664.97,327.94 668.17,330.71 671.36,333.46 674.56,336.19 677.76,338.90 680.95,341.58 684.15,344.23 687.34,346.87 690.54,349.48 693.74,352.07 696.93,354.63 700.13,357.18 703.33,359.70 706.52,362.20 709.72,364.68 712.91,367.14 716.11,369.58 719.31,371.99 722.50,374.39 725.70,376.76 728.90,379.11 732.09,381.45 735.29,383.76 738.48,386.05 741.68,388.33 744.88,390.58 748.07,392.81 751.27,395.03 754.47,397.22 757.66,399.40 760.86,401.56 764.05,403.70 767.25,405.82 770.45,407.92 773.64,410.01 776.84,412.07 780.04,414.12 783.23,416.15 786.43,418.17 789.62,420.16 792.82,422.14 796.02,424.10 799.21,426.05 802.41,427.98 805.61,429.89 808.80,431.78 812.00,433.66 815.19,435.52 818.39,437.37 821.59,439.20 824.78,441.02 827.98,442.81 831.18,444.60 834.37,446.37 837.57,448.12 840.76,449.86 843.96,451.58 847.16,453.29 850.35,454.98 853.55,456.66 856.75,458.32 859.94,459.97 863.14,461.61 866.33,463.23 869.53,464.84 872.73,466.43 875.92,468.01 879.12,469.57 882.32,471.13 885.51,472.67 888.71,474.19 891.90,475.70 895.10,477.20 898.30,478.69 901.49,480.16 904.69,481.63 907.89,483.07 911.08,484.51 914.28,485.93 917.47,487.34 920.67,488.74 923.87,490.13 927.06,491.51 930.26,492.87 933.46,494.22 936.65,495.56 939.85,496.89 943.04,498.21 946.24,499.51 949.44,500.80 952.63,502.09 955.83,503.36 959.03,504.62 962.22,505.87 965.42,507.11 968.61,508.34 971.81,509.56 975.01,510.76 978.20,511.96 981.40,513.15 984.60,514.32 987.79,515.49 990.99,516.65 994.18,517.79 997.38,518.93 1000.58,520.06 1003.77,521.17 1006.97,522.28 1010.17,523.38 1013.36,524.46 1016.56,525.54 1019.75,526.61 1022.95,527.67 1026.15,528.72 1029.34,529.77 1032.54,530.80 1035.74,531.82 1038.93,532.84 1042.13,533.84 1045.32,534.84 1048.52,535.83 1051.72,536.81 1054.91,537.78 1058.11,538.75 1061.31,539.70 1064.50,540.65 1067.70,541.59 1070.89,542.52 1074.09,543.44 1077.29,544.36 1080.48,545.27 1083.68,546.17 1086.88,547.06 1090.07,547.94 1093.27,548.82 1096.46,549.69 1099.66,550.55 1102.86,551.40 1106.05,552.25 1109.25,553.09 1112.45,553.92 1115.64,554.74 1118.84,555.56" fill="none" stroke="#e9a33a" stroke-width="3.80" stroke-linejoin="round" stroke-linecap="round" />
<polyline points="643.00,305.00 642.60,306.57 645.79,309.59 648.99,312.58 652.19,315.53 655.38,318.46 658.58,321.37 661.77,324.24 664.97,327.09 668.17,329.91 671.36,332.70 674.56,335.47 677.76,338.21 680.95,340.92 684.15,343.61 687.34,346.27 690.54,348.91 693.74,351.52 696.93,354.11 700.13,356.67 703.33,359.21 706.52,361.72 709.72,364.21 712.91,366.67 716.11,369.12 719.31,371.53 722.50,373.93 725.70,376.30 728.90,378.65 732.09,380.98 735.29,383.29 738.48,385.57 741.68,387.83 744.88,390.07 748.07,392.29 751.27,394.49 754.47,396.67 757.66,398.82 760.86,400.96 764.05,403.07 767.25,405.17 770.45,407.24 773.64,409.30 776.84,411.33 780.04,413.35 783.23,415.34 786.43,417.32 789.62,419.28 792.82,421.22 796.02,423.14 799.21,425.05 802.41,426.93 805.61,428.80 808.80,430.65 812.00,432.48 815.19,434.29 818.39,436.09 821.59,437.87 824.78,439.63 827.98,441.38 831.18,443.11 834.37,444.82 837.57,446.52 840.76,448.20 843.96,449.86 847.16,451.51 850.35,453.14 853.55,454.76 856.75,456.36 859.94,457.95 863.14,459.52 866.33,461.08 869.53,462.62 872.73,464.14 875.92,465.66 879.12,467.15 882.32,468.64 885.51,470.11 888.71,471.56 891.90,473.00 895.10,474.43 898.30,475.84 901.49,477.24 904.69,478.63 907.89,480.01 911.08,481.37 914.28,482.71 917.47,484.05 920.67,485.37 923.87,486.68 927.06,487.98 930.26,489.26 933.46,490.53 936.65,491.79 939.85,493.04 943.04,494.28 946.24,495.50 949.44,496.72 952.63,497.92 955.83,499.11 959.03,500.29 962.22,501.45 965.42,502.61 968.61,503.75 971.81,504.89 975.01,506.01 978.20,507.12 981.40,508.23 984.60,509.32 987.79,510.40 990.99,511.47 994.18,512.53 997.38,513.58 1000.58,514.62 1003.77,515.65 1006.97,516.67 1010.17,517.68 1013.36,518.68 1016.56,519.68 1019.75,520.66 1022.95,521.63 1026.15,522.59 1029.34,523.55 1032.54,524.49 1035.74,525.43 1038.93,526.36 1042.13,527.28 1045.32,528.19 1048.52,529.09 1051.72,529.98 1054.91,530.86 1058.11,531.74 1061.31,532.61 1064.50,533.47 1067.70,534.32 1070.89,535.16 1074.09,535.99 1077.29,536.82 1080.48,537.64 1083.68,538.45 1086.88,539.25 1090.07,540.05 1093.27,540.84 1096.46,541.62 1099.66,542.39 1102.86,543.15 1106.05,543.91 1109.25,544.66 1112.45,545.41 1115.64,546.14 1118.84,546.87" fill="none" stroke="#4dbde9" stroke-width="3.80" stroke-linejoin="round" stroke-linecap="round" />
<polyline points="643.00,305.00 642.60,306.21 645.79,308.17 648.99,310.10 652.19,312.01 655.38,313.89 658.58,315.74 661.77,317.57 664.97,319.38 668.17,321.16 671.36,322.91 674.56,324.64 677.76,326.35 680.95,328.04 684.15,329.70 687.34,331.34 690.54,332.95 693.74,334.55 696.93,336.12 700.13,337.67 703.33,339.20 706.52,340.71 709.72,342.20 712.91,343.67 716.11,345.12 719.31,346.55 722.50,347.96 725.70,349.35 728.90,350.72 732.09,352.07 735.29,353.40 738.48,354.72 741.68,356.02 744.88,357.30 748.07,358.56 751.27,359.81 754.47,361.04 757.66,362.25 760.86,363.44 764.05,364.62 767.25,365.79 770.45,366.93 773.64,368.07 776.84,369.18 780.04,370.28 783.23,371.37 786.43,372.44 789.62,373.50 792.82,374.54 796.02,375.57 799.21,376.58 802.41,377.58 805.61,378.57 808.80,379.54 812.00,380.50 815.19,381.45 818.39,382.38 821.59,383.30 824.78,384.21 827.98,385.11 831.18,385.99 834.37,386.87 837.57,387.73 840.76,388.57 843.96,389.41 847.16,390.24 850.35,391.05 853.55,391.85 856.75,392.65 859.94,393.43 863.14,394.20 866.33,394.96 869.53,395.71 872.73,396.45 875.92,397.18 879.12,397.90 882.32,398.61 885.51,399.31 888.71,400.00 891.90,400.68 895.10,401.35 898.30,402.02 901.49,402.67 904.69,403.32 907.89,403.95 911.08,404.58 914.28,405.20 917.47,405.81 920.67,406.41 923.87,407.00 927.06,407.59 930.26,408.17 933.46,408.74 936.65,409.30 939.85,409.86 943.04,410.40 946.24,410.94 949.44,411.47 952.63,412.00 955.83,412.52 959.03,413.03 962.22,413.53 965.42,414.03 968.61,414.52 971.81,415.00 975.01,415.48 978.20,415.95 981.40,416.41 984.60,416.87 987.79,417.32 990.99,417.77 994.18,418.21 997.38,418.64 1000.58,419.07 1003.77,419.49 1006.97,419.91 1010.17,420.32 1013.36,420.72 1016.56,421.12 1019.75,421.51 1022.95,421.90 1026.15,422.29 1029.34,422.66 1032.54,423.04 1035.74,423.40 1038.93,423.77 1042.13,424.12 1045.32,424.48 1048.52,424.82 1051.72,425.17 1054.91,425.51 1058.11,425.84 1061.31,426.17 1064.50,426.49 1067.70,426.82 1070.89,427.13 1074.09,427.44 1077.29,427.75 1080.48,428.05 1083.68,428.35 1086.88,428.65 1090.07,428.94 1093.27,429.23 1096.46,429.51 1099.66,429.79 1102.86,430.06 1106.05,430.34 1109.25,430.60 1112.45,430.87 1115.64,431.13 1118.84,431.39" fill="none" stroke="#2f4b9e" stroke-width="3.00" stroke-linejoin="round" stroke-linecap="round" />
<g fill="#f0905c"><circle cx="766.6" cy="411.0" r="3.70"/><circle cx="773.1" cy="416.6" r="3.70"/><circle cx="779.7" cy="417.1" r="3.70"/><circle cx="786.2" cy="419.0" r="3.70"/><circle cx="792.7" cy="425.6" r="3.70"/><circle cx="799.2" cy="429.0" r="3.70"/><circle cx="805.7" cy="437.0" r="3.70"/><circle cx="812.2" cy="436.8" r="3.70"/><circle cx="818.7" cy="436.7" r="3.70"/><circle cx="825.2" cy="441.2" r="3.70"/><circle cx="831.7" cy="445.8" r="3.70"/><circle cx="838.2" cy="454.7" r="3.70"/><circle cx="844.7" cy="451.6" r="3.70"/><circle cx="851.2" cy="455.3" r="3.70"/><circle cx="857.7" cy="464.6" r="3.70"/><circle cx="696.5" cy="348.8" r="3.70"/><circle cx="703.5" cy="351.6" r="3.70"/><circle cx="724.5" cy="369.8" r="3.70"/><circle cx="737.8" cy="389.4" r="3.70"/><circle cx="751.8" cy="396.4" r="3.70"/><circle cx="860.0" cy="468.2" r="3.70"/><circle cx="889.2" cy="475.5" r="3.70"/><circle cx="912.6" cy="488.7" r="3.70"/><circle cx="936.0" cy="497.4" r="3.70"/><circle cx="959.4" cy="510.6" r="3.70"/><circle cx="981.3" cy="515.0" r="3.70"/><circle cx="1004.7" cy="525.2" r="3.70"/><circle cx="1028.1" cy="532.5" r="3.70"/><circle cx="1050.0" cy="539.8" r="3.70"/><circle cx="1073.5" cy="544.2" r="3.70"/><circle cx="1096.8" cy="553.0" r="3.70"/><circle cx="1118.8" cy="561.8" r="3.70"/></g>
<g fill="#4dbde9"><circle cx="762.8" cy="399.4" r="3.70"/><circle cx="767.8" cy="406.7" r="3.70"/><circle cx="772.8" cy="409.3" r="3.70"/><circle cx="777.7" cy="411.1" r="3.70"/><circle cx="782.7" cy="415.3" r="3.70"/><circle cx="787.7" cy="414.4" r="3.70"/><circle cx="792.7" cy="417.0" r="3.70"/><circle cx="797.6" cy="423.1" r="3.70"/><circle cx="802.6" cy="426.3" r="3.70"/><circle cx="807.6" cy="430.5" r="3.70"/><circle cx="812.6" cy="433.6" r="3.70"/><circle cx="817.6" cy="432.2" r="3.70"/><circle cx="822.5" cy="435.7" r="3.70"/><circle cx="827.5" cy="442.1" r="3.70"/><circle cx="832.5" cy="441.9" r="3.70"/><circle cx="837.5" cy="445.1" r="3.70"/><circle cx="842.4" cy="444.7" r="3.70"/><circle cx="847.4" cy="448.2" r="3.70"/><circle cx="852.4" cy="451.5" r="3.70"/><circle cx="857.4" cy="454.3" r="3.70"/><circle cx="651.0" cy="308.2" r="3.70"/><circle cx="657.3" cy="314.5" r="3.70"/><circle cx="666.4" cy="327.8" r="3.70"/><circle cx="670.6" cy="330.6" r="3.70"/><circle cx="675.5" cy="334.8" r="3.70"/><circle cx="679.7" cy="339.0" r="3.70"/><circle cx="684.6" cy="342.5" r="3.70"/><circle cx="685.3" cy="349.5" r="3.70"/><circle cx="692.3" cy="351.6" r="3.70"/><circle cx="698.6" cy="355.1" r="3.70"/><circle cx="705.6" cy="357.2" r="3.70"/><circle cx="710.5" cy="359.3" r="3.70"/><circle cx="716.8" cy="369.8" r="3.70"/><circle cx="723.8" cy="372.6" r="3.70"/><circle cx="730.8" cy="381.0" r="3.70"/><circle cx="737.8" cy="383.1" r="3.70"/><circle cx="744.8" cy="388.0" r="3.70"/><circle cx="751.8" cy="390.8" r="3.70"/><circle cx="758.8" cy="398.5" r="3.70"/><circle cx="860.0" cy="458.0" r="3.70"/><circle cx="868.8" cy="463.8" r="3.70"/><circle cx="889.2" cy="472.6" r="3.70"/><circle cx="912.6" cy="479.9" r="3.70"/><circle cx="936.0" cy="496.0" r="3.70"/><circle cx="959.4" cy="498.9" r="3.70"/><circle cx="981.3" cy="512.0" r="3.70"/><circle cx="1004.7" cy="519.4" r="3.70"/><circle cx="1028.1" cy="528.1" r="3.70"/><circle cx="1050.0" cy="536.9" r="3.70"/><circle cx="1073.5" cy="529.6" r="3.70"/><circle cx="1096.8" cy="544.2" r="3.70"/><circle cx="1118.8" cy="547.1" r="3.70"/></g>
<g fill="#2f4b9e"><circle cx="648.2" cy="312.4" r="3.70"/><circle cx="653.8" cy="322.2" r="3.70"/><circle cx="660.1" cy="316.6" r="3.70"/><circle cx="662.9" cy="325.7" r="3.70"/><circle cx="669.9" cy="322.9" r="3.70"/><circle cx="676.9" cy="327.1" r="3.70"/><circle cx="683.9" cy="332.0" r="3.70"/><circle cx="690.9" cy="342.5" r="3.70"/><circle cx="697.9" cy="337.6" r="3.70"/><circle cx="704.2" cy="339.0" r="3.70"/><circle cx="711.2" cy="344.6" r="3.70"/><circle cx="718.2" cy="350.2" r="3.70"/><circle cx="725.2" cy="356.5" r="3.70"/><circle cx="732.2" cy="354.4" r="3.70"/><circle cx="739.2" cy="358.6" r="3.70"/><circle cx="746.2" cy="362.1" r="3.70"/><circle cx="752.5" cy="368.4" r="3.70"/><circle cx="770.7" cy="376.8" r="3.70"/><circle cx="792.9" cy="379.0" r="3.70"/><circle cx="815.6" cy="383.5" r="3.70"/><circle cx="839.5" cy="388.1" r="3.70"/><circle cx="860.0" cy="392.2" r="3.70"/><circle cx="884.9" cy="398.0" r="3.70"/><circle cx="908.2" cy="403.3" r="3.70"/><circle cx="931.6" cy="406.8" r="3.70"/><circle cx="953.6" cy="412.0" r="3.70"/><circle cx="977.0" cy="412.6" r="3.70"/><circle cx="1000.4" cy="417.0" r="3.70"/><circle cx="1023.7" cy="419.4" r="3.70"/><circle cx="1045.7" cy="417.9" r="3.70"/><circle cx="1069.1" cy="424.9" r="3.70"/><circle cx="1092.5" cy="426.7" r="3.70"/><circle cx="1115.8" cy="431.6" r="3.70"/><circle cx="645.0" cy="308.0" r="3.70"/><circle cx="650.0" cy="318.0" r="3.70"/><circle cx="657.0" cy="320.0" r="3.70"/></g>
<polyline points="641.90,304.81 642.05,326.03 642.21,345.86 642.36,364.40 642.52,381.73 642.67,397.93 642.82,413.07 642.98,427.23 643.13,440.46 643.29,452.83 643.44,464.40 643.60,475.21 643.75,485.32 643.90,494.78 644.06,503.62 644.21,511.90 644.37,519.63 644.52,526.87 644.67,533.63 644.83,539.97 644.98,545.89 645.14,551.43 645.29,556.62 645.45,561.48 645.60,566.02 645.75,570.28 645.91,574.26 646.06,577.99 646.22,581.48 646.37,584.75 646.52,587.82 646.68,590.69 646.83,593.38 646.99,595.91 647.14,598.27 647.30,600.49 647.45,602.57 647.60,604.53 647.76,606.36 647.91,608.08 648.07,609.70 648.22,611.22 648.37,612.64 648.53,613.99 648.68,615.25 648.84,616.43 648.99,617.55 649.15,618.60 649.30,619.60 649.45,620.53 649.61,621.41 649.76,622.24 649.92,623.03 650.07,623.77 650.22,624.47 650.38,625.14 650.53,625.77 650.69,626.36 650.84,626.93 651.00,627.46 651.15,627.97 651.30,628.45 651.46,628.91 651.61,629.35 651.77,629.77 651.92,630.16 652.07,630.54 652.23,630.91 652.38,631.25 652.54,631.59 652.69,631.91 652.85,632.21 653.00,632.51 653.15,632.79 653.31,633.06 653.46,633.32 653.62,633.58 653.77,633.82 653.92,634.06 654.08,634.28 654.23,634.51 654.39,634.72 654.54,634.93 654.70,635.13 654.85,635.33 655.00,635.52 655.16,635.71 655.31,635.90 655.47,636.08 655.62,636.25 655.77,636.42 655.93,636.59 656.08,636.76 656.24,636.92 656.39,637.08 656.55,637.23 656.70,637.39 656.85,637.54 657.01,637.69 657.16,637.84 657.32,637.98 657.47,638.13 657.62,638.27 657.78,638.41 657.93,638.55 658.09,638.69 658.24,638.82 658.40,638.96 658.55,639.09 658.70,639.23 658.86,639.36 659.01,639.49 659.17,639.62 659.32,639.75 659.47,639.88 659.63,640.00 659.78,640.13 659.94,640.25 660.09,640.38 660.25,640.50 660.40,640.63 660.55,640.75 660.71,640.87 660.86,641.00 661.02,641.12 661.17,641.24 661.32,641.36 661.48,641.48 661.63,641.60 661.79,641.72 661.94,641.84 662.09,641.96 662.25,642.08 662.40,642.19 662.56,642.31 662.71,642.43 662.87,642.55 663.02,642.66 663.17,642.78 663.33,642.90 663.48,643.01 663.64,643.13 663.79,643.24 663.94,643.36 664.10,643.47 664.25,643.59 664.41,643.70 664.56,643.82 664.72,643.93 664.87,644.04 664.87,644.04 667.93,646.26 670.98,648.41 674.04,650.51 677.10,652.54 680.16,654.53 683.21,656.46 686.27,658.34 689.33,660.16 692.39,661.95 695.44,663.68 698.50,665.37 701.56,667.01 704.62,668.61 707.67,670.16 710.73,671.68 713.79,673.16 716.85,674.59 719.90,675.99 722.96,677.35 726.02,678.67 729.08,679.96 732.13,681.22 735.19,682.44 738.25,683.63 741.31,684.79 744.36,685.92 747.42,687.01 750.48,688.08 753.54,689.12 756.59,690.13 759.65,691.12 762.71,692.08 765.77,693.01 768.82,693.92 771.88,694.81 774.94,695.67 778.00,696.51 781.05,697.32 784.11,698.12 787.17,698.89 790.23,699.65 793.28,700.38 796.34,701.09 799.40,701.79 802.46,702.46 805.51,703.12 808.57,703.76 811.63,704.39 814.69,704.99 817.74,705.59 820.80,706.16 823.86,706.72 826.92,707.27 829.97,707.80 833.03,708.31 836.09,708.82 839.15,709.31 842.20,709.78 845.26,710.25 848.32,710.70 851.38,711.14 854.43,711.57 857.49,711.99 860.55,712.39 863.61,712.79 866.66,713.17 869.72,713.55 872.78,713.91 875.84,714.26 878.89,714.61 881.95,714.95 885.01,715.27 888.07,715.59 891.12,715.90 894.18,716.20 897.24,716.50 900.30,716.78 903.35,717.06 906.41,717.33 909.47,717.60 912.53,717.85 915.58,718.10 918.64,718.35 921.70,718.58 924.76,718.82 927.81,719.04 930.87,719.26 933.93,719.47 936.99,719.68 940.04,719.88 943.10,720.08 946.16,720.27 949.22,720.45 952.27,720.63 955.33,720.81 958.39,720.98 961.45,721.15 964.50,721.31 967.56,721.47 970.62,721.63 973.68,721.78 976.73,721.92 979.79,722.06 982.85,722.20 985.91,722.34 988.96,722.47 992.02,722.60 995.08,722.72 998.14,722.84 1001.19,722.96 1004.25,723.07 1007.31,723.18 1010.37,723.29 1013.42,723.40 1016.48,723.50 1019.54,723.60 1022.60,723.70 1025.65,723.80 1028.71,723.89 1031.77,723.98 1034.83,724.07 1037.88,724.15 1040.94,724.23 1044.00,724.31 1047.06,724.39 1050.11,724.47 1053.17,724.54 1056.23,724.62 1059.29,724.69 1062.34,724.76 1065.40,724.82 1068.46,724.89 1071.52,724.95 1074.57,725.01 1077.63,725.07 1080.69,725.13 1083.75,725.19 1086.80,725.24 1089.86,725.30 1092.92,725.35 1095.98,725.40 1099.03,725.45 1102.09,725.50 1105.15,725.55 1108.21,725.59 1111.26,725.64 1114.32,725.68 1117.38,725.72" fill="none" stroke="#df2030" stroke-width="2.60" stroke-linejoin="round" stroke-linecap="round" />
<polyline points="641.90,304.81 642.05,330.34 642.21,353.82 642.36,375.43 642.52,395.31 642.67,413.62 642.82,430.46 642.98,445.98 643.13,460.26 643.29,473.42 643.44,485.54 643.60,496.70 643.75,507.00 643.90,516.48 644.06,525.23 644.21,533.30 644.37,540.74 644.52,547.61 644.67,553.95 644.83,559.81 644.98,565.22 645.14,570.22 645.29,574.85 645.45,579.13 645.60,583.09 645.75,586.76 645.91,590.16 646.06,593.31 646.22,596.23 646.37,598.95 646.52,601.47 646.68,603.82 646.83,606.00 646.99,608.04 647.14,609.93 647.30,611.70 647.45,613.36 647.60,614.90 647.76,616.35 647.91,617.70 648.07,618.98 648.22,620.17 648.37,621.30 648.53,622.35 648.68,623.35 648.84,624.30 648.99,625.19 649.15,626.03 649.30,626.83 649.45,627.59 649.61,628.32 649.76,629.00 649.92,629.66 650.07,630.29 650.22,630.89 650.38,631.47 650.53,632.02 650.69,632.55 650.84,633.06 651.00,633.55 651.15,634.03 651.30,634.49 651.46,634.93 651.61,635.36 651.77,635.78 651.92,636.19 652.07,636.59 652.23,636.97 652.38,637.35 652.54,637.71 652.69,638.07 652.85,638.42 653.00,638.76 653.15,639.10 653.31,639.43 653.46,639.75 653.62,640.07 653.77,640.38 653.92,640.69 654.08,640.99 654.23,641.29 654.39,641.58 654.54,641.87 654.70,642.15 654.85,642.44 655.00,642.71 655.16,642.99 655.31,643.26 655.47,643.52 655.62,643.79 655.77,644.05 655.93,644.31 656.08,644.56 656.24,644.82 656.39,645.07 656.55,645.31 656.70,645.56 656.85,645.80 657.01,646.04 657.16,646.28 657.32,646.52 657.47,646.75 657.62,646.99 657.78,647.22 657.93,647.44 658.09,647.67 658.24,647.90 658.40,648.12 658.55,648.34 658.70,648.56 658.86,648.78 659.01,648.99 659.17,649.21 659.32,649.42 659.47,649.63 659.63,649.84 659.78,650.04 659.94,650.25 660.09,650.45 660.25,650.66 660.40,650.86 660.55,651.06 660.71,651.26 660.86,651.45 661.02,651.65 661.17,651.84 661.32,652.03 661.48,652.22 661.63,652.41 661.79,652.60 661.94,652.79 662.09,652.97 662.25,653.16 662.40,653.34 662.56,653.52 662.71,653.70 662.87,653.88 663.02,654.06 663.17,654.23 663.33,654.41 663.48,654.58 663.64,654.75 663.79,654.93 663.94,655.10 664.10,655.26 664.25,655.43 664.41,655.60 664.56,655.76 664.72,655.93 664.87,656.09 664.87,656.09 667.93,659.08 670.98,661.68 674.04,663.94 677.10,665.89 680.16,667.59 683.21,669.06 686.27,670.34 689.33,671.45 692.39,672.41 695.44,673.25 698.50,673.97" fill="none" stroke="#33ad4a" stroke-width="3.40" stroke-linejoin="round" stroke-linecap="round" />
<polyline points="641.90,304.81 642.05,314.12 642.21,323.15 642.36,331.89 642.52,340.36 642.67,348.57 642.82,356.51 642.98,364.22 643.13,371.68 643.29,378.91 643.44,385.92 643.60,392.71 643.75,399.30 643.90,405.67 644.06,411.86 644.21,417.85 644.37,423.66 644.52,429.29 644.67,434.75 644.83,440.05 644.98,445.18 645.14,450.16 645.29,454.99 645.45,459.67 645.60,464.21 645.75,468.61 645.91,472.88 646.06,477.03 646.22,481.05 646.37,484.95 646.52,488.73 646.68,492.41 646.83,495.97 646.99,499.43 647.14,502.79 647.30,506.05 647.45,509.21 647.60,512.29 647.76,515.27 647.91,518.17 648.07,520.98 648.22,523.72 648.37,526.37 648.53,528.95 648.68,531.46 648.84,533.90 648.99,536.27 649.15,538.57 649.30,540.81 649.45,542.98 649.61,545.10 649.76,547.16 649.92,549.16 650.07,551.10 650.22,553.00 650.38,554.84 650.53,556.63 650.69,558.38 650.84,560.08 651.00,561.73 651.15,563.35 651.30,564.92 651.46,566.44 651.61,567.93 651.77,569.38 651.92,570.80 652.07,572.18 652.23,573.52 652.38,574.83 652.54,576.11 652.69,577.36 652.85,578.57 653.00,579.76 653.15,580.92 653.31,582.05 653.46,583.15 653.62,584.23 653.77,585.28 653.92,586.31 654.08,587.32 654.23,588.30 654.39,589.26 654.54,590.20 654.70,591.11 654.85,592.01 655.00,592.89 655.16,593.75 655.31,594.59 655.47,595.41 655.62,596.22 655.77,597.01 655.93,597.78 656.08,598.54 656.24,599.28 656.39,600.01 656.55,600.73 656.70,601.43 656.85,602.11 657.01,602.79 657.16,603.45 657.32,604.10 657.47,604.73 657.62,605.36 657.78,605.97 657.93,606.58 658.09,607.17 658.24,607.75 658.40,608.33 658.55,608.89 658.70,609.44 658.86,609.99 659.01,610.53 659.17,611.05 659.32,611.57 659.47,612.08 659.63,612.59 659.78,613.09 659.94,613.57 660.09,614.06 660.25,614.53 660.40,615.00 660.55,615.46 660.71,615.92 660.86,616.37 661.02,616.81 661.17,617.25 661.32,617.68 661.48,618.11 661.63,618.53 661.79,618.94 661.94,619.35 662.09,619.76 662.25,620.16 662.40,620.56 662.56,620.95 662.71,621.34 662.87,621.72 663.02,622.10 663.17,622.48 663.33,622.85 663.48,623.21 663.64,623.58 663.79,623.94 663.94,624.29 664.10,624.65 664.25,625.00 664.41,625.34 664.56,625.68 664.72,626.02 664.87,626.36 664.87,626.36 667.93,632.50 670.98,637.87 674.04,642.70 677.10,647.13 680.16,651.23 683.21,655.05 686.27,658.61 689.33,661.95 692.39,665.08 695.44,668.01 698.50,670.76 701.56,673.33 704.62,675.75 707.67,678.02 710.73,680.14 713.79,682.14 716.85,684.01 719.90,685.76 722.96,687.41 726.02,688.95 729.08,690.40 732.13,691.76 735.19,693.03 738.25,694.22 741.31,695.34 744.36,696.39 747.42,697.38 750.48,698.30 753.54,699.17 756.59,699.98 759.65,700.75 762.71,701.46 765.77,702.13 768.82,702.76 771.88,703.35 774.94,703.91 778.00,704.43 781.05,704.91 784.11,705.37 787.17,705.80 790.23,706.20 793.28,706.58 796.34,706.93 799.40,707.26 802.46,707.57 805.51,707.87 808.57,708.14 811.63,708.40 814.69,708.64 817.74,708.86 820.80,709.07 823.86,709.27 826.92,709.46 829.97,709.63 833.03,709.80 836.09,709.95 839.15,710.10 842.20,710.23 845.26,710.36 848.32,710.48 851.38,710.59 854.43,710.69 857.49,710.79 860.55,710.88 863.61,710.97 866.66,711.05 869.72,711.13 872.78,711.20 875.84,711.26 878.89,711.33 881.95,711.39 885.01,711.44 888.07,711.49 891.12,711.54 894.18,711.59 897.24,711.63 900.30,711.67 903.35,711.71 906.41,711.74 909.47,711.78 912.53,711.81 915.58,711.84 918.64,711.86 921.70,711.89 924.76,711.91 927.81,711.93 930.87,711.96 933.93,711.98 936.99,711.99 940.04,712.01 943.10,712.03 946.16,712.04 949.22,712.06 952.27,712.07 955.33,712.08 958.39,712.10 961.45,712.11 964.50,712.12 967.56,712.13 970.62,712.14 973.68,712.14 976.73,712.15 979.79,712.16 982.85,712.17 985.91,712.17 988.96,712.18 992.02,712.19 995.08,712.19 998.14,712.20 1001.19,712.20 1004.25,712.21 1007.31,712.21 1010.37,712.21 1013.42,712.22 1016.48,712.22 1019.54,712.23 1022.60,712.23" fill="none" stroke="#0d0d0d" stroke-width="3.60" stroke-linejoin="round" stroke-linecap="round" />
<g fill="#df2030"><circle cx="642.7" cy="385.2" r="3.70"/><circle cx="644.2" cy="498.0" r="3.70"/><circle cx="645.7" cy="571.0" r="3.70"/><circle cx="647.3" cy="603.6" r="3.70"/><circle cx="648.8" cy="607.3" r="3.70"/><circle cx="650.3" cy="632.4" r="3.70"/><circle cx="651.9" cy="630.8" r="3.70"/><circle cx="653.4" cy="640.5" r="3.70"/><circle cx="654.9" cy="637.2" r="3.70"/><circle cx="656.4" cy="644.5" r="3.70"/><circle cx="658.0" cy="641.0" r="3.70"/><circle cx="659.5" cy="631.2" r="3.70"/><circle cx="661.0" cy="629.9" r="3.70"/><circle cx="662.6" cy="633.6" r="3.70"/><circle cx="664.1" cy="639.9" r="3.70"/><circle cx="673.6" cy="632.6" r="3.70"/><circle cx="694.1" cy="644.3" r="3.70"/><circle cx="687.3" cy="650.2" r="3.70"/><circle cx="699.9" cy="655.0" r="3.70"/><circle cx="703.8" cy="652.1" r="3.70"/><circle cx="711.6" cy="659.9" r="3.70"/><circle cx="724.3" cy="664.8" r="3.70"/><circle cx="770.1" cy="677.5" r="3.70"/><circle cx="747.7" cy="685.3" r="3.70"/><circle cx="758.4" cy="686.2" r="3.70"/><circle cx="736.0" cy="694.0" r="3.70"/><circle cx="688.2" cy="681.4" r="3.70"/><circle cx="694.1" cy="674.5" r="3.70"/><circle cx="682.4" cy="671.6" r="3.70"/><circle cx="706.7" cy="677.5" r="3.70"/><circle cx="659.0" cy="636.5" r="3.70"/><circle cx="663.9" cy="640.4" r="3.70"/><circle cx="653.1" cy="628.7" r="3.70"/><circle cx="647.3" cy="630.7" r="3.70"/><circle cx="760.0" cy="685.1" r="3.70"/><circle cx="770.5" cy="676.7" r="3.70"/><circle cx="782.0" cy="691.4" r="3.70"/><circle cx="793.6" cy="708.2" r="3.70"/><circle cx="805.1" cy="696.6" r="3.70"/><circle cx="816.7" cy="691.4" r="3.70"/><circle cx="828.2" cy="720.8" r="3.70"/><circle cx="839.8" cy="696.6" r="3.70"/><circle cx="851.3" cy="702.9" r="3.70"/><circle cx="862.9" cy="708.2" r="3.70"/><circle cx="874.4" cy="698.7" r="3.70"/><circle cx="886.0" cy="708.2" r="3.70"/><circle cx="897.5" cy="712.4" r="3.70"/><circle cx="909.1" cy="702.9" r="3.70"/><circle cx="920.6" cy="709.2" r="3.70"/><circle cx="932.2" cy="701.9" r="3.70"/><circle cx="943.7" cy="700.8" r="3.70"/><circle cx="955.3" cy="729.2" r="3.70"/><circle cx="966.8" cy="730.2" r="3.70"/><circle cx="978.4" cy="706.1" r="3.70"/><circle cx="989.9" cy="726.0" r="3.70"/><circle cx="999.4" cy="731.3" r="3.70"/><circle cx="1023.2" cy="717.7" r="3.70"/><circle cx="1034.7" cy="737.5" r="3.70"/><circle cx="1046.1" cy="724.0" r="3.70"/><circle cx="1057.6" cy="711.5" r="3.70"/><circle cx="1069.0" cy="714.6" r="3.70"/><circle cx="1080.5" cy="732.3" r="3.70"/><circle cx="1092.0" cy="720.8" r="3.70"/><circle cx="1103.4" cy="727.1" r="3.70"/><circle cx="1114.9" cy="729.2" r="3.70"/></g>
<g fill="#0d0d0d"><circle cx="642.7" cy="347.5" r="3.70"/><circle cx="644.2" cy="418.2" r="3.70"/><circle cx="645.7" cy="470.2" r="3.70"/><circle cx="647.3" cy="505.8" r="3.70"/><circle cx="648.8" cy="531.5" r="3.70"/><circle cx="650.3" cy="557.3" r="3.70"/><circle cx="651.9" cy="573.6" r="3.70"/><circle cx="653.4" cy="580.7" r="3.70"/><circle cx="654.9" cy="593.8" r="3.70"/><circle cx="656.4" cy="598.8" r="3.70"/><circle cx="658.0" cy="605.1" r="3.70"/><circle cx="659.5" cy="609.1" r="3.70"/><circle cx="661.0" cy="617.6" r="3.70"/><circle cx="662.6" cy="622.0" r="3.70"/><circle cx="664.1" cy="622.5" r="3.70"/><circle cx="641.4" cy="380.4" r="3.70"/><circle cx="642.0" cy="393.2" r="3.70"/><circle cx="643.0" cy="440.6" r="3.70"/><circle cx="644.0" cy="468.0" r="3.70"/><circle cx="646.0" cy="515.5" r="3.70"/><circle cx="649.0" cy="537.5" r="3.70"/><circle cx="651.0" cy="555.7" r="3.70"/><circle cx="652.5" cy="566.7" r="3.70"/><circle cx="654.2" cy="581.3" r="3.70"/><circle cx="654.1" cy="582.9" r="3.70"/><circle cx="658.0" cy="605.3" r="3.70"/><circle cx="660.0" cy="619.0" r="3.70"/><circle cx="661.9" cy="627.8" r="3.70"/><circle cx="668.7" cy="638.5" r="3.70"/><circle cx="676.5" cy="652.1" r="3.70"/><circle cx="683.4" cy="659.0" r="3.70"/><circle cx="688.2" cy="662.8" r="3.70"/><circle cx="702.8" cy="669.7" r="3.70"/><circle cx="712.6" cy="679.4" r="3.70"/><circle cx="737.0" cy="689.2" r="3.70"/><circle cx="758.4" cy="701.8" r="3.70"/><circle cx="760.0" cy="700.8" r="3.70"/><circle cx="782.0" cy="698.1" r="3.70"/><circle cx="805.1" cy="702.9" r="3.70"/><circle cx="828.2" cy="708.2" r="3.70"/><circle cx="851.3" cy="709.2" r="3.70"/><circle cx="874.4" cy="712.0" r="3.70"/><circle cx="897.5" cy="714.5" r="3.70"/><circle cx="920.6" cy="717.0" r="3.70"/><circle cx="943.7" cy="720.8" r="3.70"/><circle cx="966.8" cy="716.2" r="3.70"/><circle cx="989.9" cy="719.7" r="3.70"/><circle cx="1011.8" cy="717.1" r="3.70"/></g>
<g fill="#33ad4a"><circle cx="642.7" cy="410.8" r="3.70"/><circle cx="644.0" cy="520.9" r="3.70"/><circle cx="645.3" cy="573.8" r="3.70"/><circle cx="646.7" cy="602.6" r="3.70"/><circle cx="648.0" cy="615.0" r="3.70"/><circle cx="649.4" cy="628.2" r="3.70"/><circle cx="650.7" cy="630.6" r="3.70"/><circle cx="652.0" cy="632.9" r="3.70"/><circle cx="653.4" cy="640.6" r="3.70"/><circle cx="654.7" cy="641.1" r="3.70"/><circle cx="656.1" cy="645.3" r="3.70"/><circle cx="657.4" cy="646.7" r="3.70"/><circle cx="658.7" cy="651.6" r="3.70"/><circle cx="660.1" cy="653.9" r="3.70"/><circle cx="661.4" cy="650.0" r="3.70"/><circle cx="662.8" cy="653.9" r="3.70"/><circle cx="664.1" cy="654.1" r="3.70"/><circle cx="665.4" cy="654.6" r="3.70"/><circle cx="666.8" cy="658.4" r="3.70"/><circle cx="668.1" cy="660.0" r="3.70"/><circle cx="669.5" cy="662.7" r="3.70"/><circle cx="670.8" cy="659.1" r="3.70"/><circle cx="672.1" cy="659.8" r="3.70"/><circle cx="673.5" cy="661.6" r="3.70"/><circle cx="674.8" cy="661.4" r="3.70"/><circle cx="676.2" cy="664.0" r="3.70"/><circle cx="677.5" cy="664.4" r="3.70"/><circle cx="678.8" cy="669.0" r="3.70"/><circle cx="680.2" cy="665.4" r="3.70"/><circle cx="681.5" cy="669.3" r="3.70"/><circle cx="682.9" cy="669.2" r="3.70"/><circle cx="684.2" cy="670.6" r="3.70"/><circle cx="685.5" cy="669.3" r="3.70"/><circle cx="686.9" cy="669.2" r="3.70"/><circle cx="688.2" cy="670.3" r="3.70"/><circle cx="689.6" cy="672.7" r="3.70"/><circle cx="690.9" cy="673.9" r="3.70"/><circle cx="692.2" cy="669.5" r="3.70"/><circle cx="693.6" cy="674.0" r="3.70"/><circle cx="694.9" cy="673.4" r="3.70"/><circle cx="696.3" cy="676.3" r="3.70"/><circle cx="697.6" cy="675.1" r="3.70"/><circle cx="698.9" cy="677.0" r="3.70"/><circle cx="700.3" cy="675.3" r="3.70"/><circle cx="641.0" cy="356.6" r="3.70"/><circle cx="641.5" cy="416.9" r="3.70"/><circle cx="641.8" cy="471.7" r="3.70"/><circle cx="642.0" cy="504.6" r="3.70"/><circle cx="642.5" cy="539.3" r="3.70"/><circle cx="643.0" cy="559.4" r="3.70"/><circle cx="643.4" cy="592.2" r="3.70"/></g>
<circle cx="641.9" cy="304.2" r="5.6" fill="#222"/>
<text transform="translate(1056.43,408.70) scale(0.9636,1)" font-size="30.52" font-weight="bold" fill="#2f4b9e" >PSM</text>
<text transform="translate(982.39,493.00) scale(1.0361,1)" font-size="27.62" font-weight="bold" fill="#4dbde9">PSM N<tspan fill="#4dbde9">Δ</tspan>65</text>
<text transform="translate(970.69,595.40) scale(1.0314,1)" font-size="27.62" font-weight="bold" fill="#f08c56">PSM N<tspan fill="#ec8fa0">Δ</tspan>24</text>
<text transform="translate(818.97,669.80) scale(0.9751,1)" font-size="29.65" font-weight="bold" fill="#0d0d0d" >FL</text>
<text transform="translate(1006.30,687.50) scale(0.9876,1)" font-size="28.78" font-weight="bold" fill="#df2030">FL N<tspan fill="#df2030">Δ</tspan>65</text>
<text transform="translate(636.63,731.10) scale(1.0380,1)" font-size="26.89" font-weight="bold" fill="#33ad4a">FL N<tspan fill="#33ad4a">Δ</tspan>24</text>
<line x1="1077.80" y1="497.40" x2="1074.90" y2="525.20" stroke="#111" stroke-width="2.00" />
<line x1="1081.60" y1="551.50" x2="1074.90" y2="569.10" stroke="#111" stroke-width="2.00" />
<line x1="832.90" y1="673.50" x2="828.20" y2="702.90" stroke="#111" stroke-width="2.00" />
<line x1="1081.10" y1="691.70" x2="1078.80" y2="719.80" stroke="#111" stroke-width="2.00" />
<line x1="668.30" y1="665.80" x2="660.00" y2="706.70" stroke="#111" stroke-width="2.00" />
</svg></body></html>
